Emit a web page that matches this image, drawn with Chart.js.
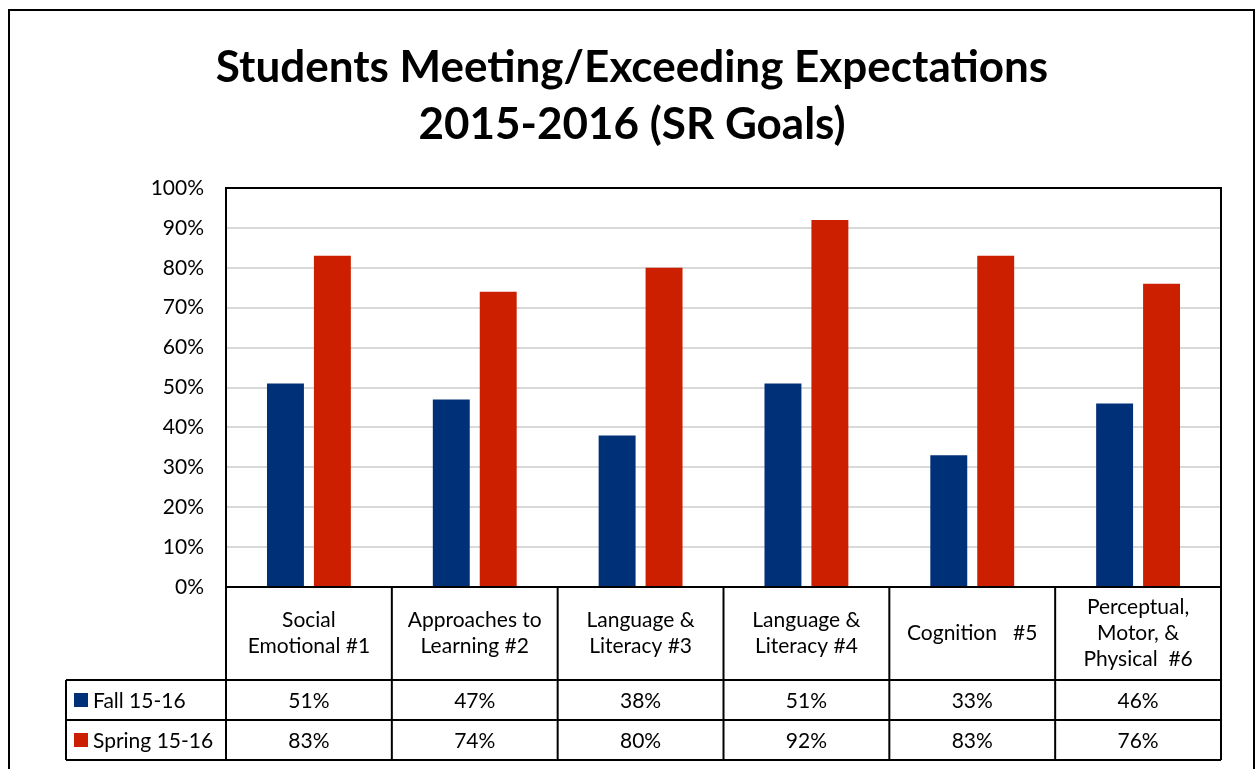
<!DOCTYPE html>
<html>
<head>
<meta charset="utf-8">
<script src="https://cdn.jsdelivr.net/npm/chart.js@4.4.1/dist/chart.umd.min.js"></script>
<style>
  body { margin: 0; background: #ffffff; }
  canvas { display: block; }
</style>
</head>
<body>
<canvas id="grafico" width="1257" height="769"></canvas>
<script>
const categorias = [
    ['Social', 'Emotional #1'],
    ['Approaches to', 'Learning #2'],
    ['Language &', 'Literacy #3'],
    ['Language &', 'Literacy #4'],
    ['Cognition   #5'],
    ['Perceptual,', 'Motor, &', 'Physical  #6']
];
const fall = [51, 47, 38, 51, 33, 46];
const spring = [83, 74, 80, 92, 83, 76];
const series = ['Fall 15-16', 'Spring 15-16'];
const titulo = ['Students Meeting/Exceeding Expectations', '2015-2016 (SR Goals)'];

const azul = '#003078';
const rojo = '#cc1f00';
const fuente = 'Lato, "DejaVu Sans", sans-serif';

// marco, titulo y tabla de datos debajo del grafico
const tablaPlugin = {
    id: 'tabla',
    afterDraw(chart) {
        const ctx = chart.ctx;
        const area = chart.chartArea;
        const x = chart.scales.x;
        ctx.save();

        // marco exterior
        ctx.strokeStyle = '#000';
        ctx.lineWidth = 2;
        ctx.strokeRect(9, 10, 1245, 800);

        // titulo
        ctx.fillStyle = '#000';
        ctx.textAlign = 'center';
        ctx.textBaseline = 'middle';
        ctx.font = 'bold 44px ' + fuente;
        ctx.fillText(titulo[0], 632, 68);
        ctx.fillText(titulo[1], 632, 125);

        // borde del area de trazado
        ctx.strokeRect(area.left, area.top, area.right - area.left, area.bottom - area.top);

        const ancho = (area.right - area.left) / categorias.length;
        const filaCat = area.bottom + 93;
        const fila1 = filaCat + 40;
        const fila2 = fila1 + 40;
        const izq = 66;

        // lineas de la tabla
        ctx.beginPath();
        ctx.moveTo(area.left, area.bottom); ctx.lineTo(area.left, fila2);
        for (let i = 1; i <= categorias.length; i++) {
            const px = area.left + ancho * i;
            ctx.moveTo(px, area.bottom); ctx.lineTo(px, fila2);
        }
        ctx.moveTo(izq, filaCat); ctx.lineTo(area.right, filaCat);
        ctx.moveTo(izq, fila1); ctx.lineTo(area.right, fila1);
        ctx.moveTo(izq, fila2); ctx.lineTo(area.right, fila2);
        ctx.moveTo(izq, filaCat); ctx.lineTo(izq, fila2);
        ctx.stroke();

        // textos de categorias
        ctx.font = '21px ' + fuente;
        categorias.forEach((lineas, i) => {
            const cx = x.getPixelForValue(i);
            const cy = (area.bottom + filaCat) / 2;
            const alto = 26;
            lineas.forEach((t, j) => {
                ctx.fillText(t, cx, cy + (j - (lineas.length - 1) / 2) * alto);
            });
        });

        // filas de valores
        const filas = [[fall, azul, filaCat], [spring, rojo, fila1]];
        filas.forEach(([valores, color, top], k) => {
            const cy = top + 20;
            ctx.fillStyle = color;
            ctx.fillRect(74, cy - 7, 14, 14);
            ctx.fillStyle = '#000';
            ctx.textAlign = 'left';
            ctx.fillText(series[k], 93, cy + 1);
            ctx.textAlign = 'center';
            valores.forEach((v, i) => {
                ctx.fillText(v + '%', x.getPixelForValue(i), cy + 1);
            });
        });
        ctx.restore();
    }
};

const grafico = document.getElementById('grafico').getContext('2d');
new Chart(grafico, {
    type: 'bar',
    data: {
        labels: categorias,
        datasets: [{
            label: series[0],
            data: fall,
            backgroundColor: azul,
            categoryPercentage: 0.566,
            barPercentage: 0.787
        }, {
            label: series[1],
            data: spring,
            backgroundColor: rojo,
            categoryPercentage: 0.566,
            barPercentage: 0.787
        }]
    },
    options: {
        responsive: false,
        animation: false,
        devicePixelRatio: 1,
        layout: {
            padding: { top: 188, right: 36, bottom: 182, left: 0 }
        },
        scales: {
            x: {
                display: false
            },
            y: {
                min: 0,
                max: 100,
                afterFit(scale) { scale.width = 226; },
                ticks: {
                    stepSize: 10,
                    padding: 22,
                    color: '#000',
                    font: { family: fuente, size: 21 },
                    callback: v => v + '%'
                },
                grid: {
                    color: '#d9d9d9',
                    lineWidth: 2,
                    drawTicks: false
                },
                border: { display: false }
            }
        },
        plugins: {
            legend: { display: false },
            tooltip: { enabled: false }
        }
    },
    plugins: [tablaPlugin]
});
</script>
</body>
</html>
